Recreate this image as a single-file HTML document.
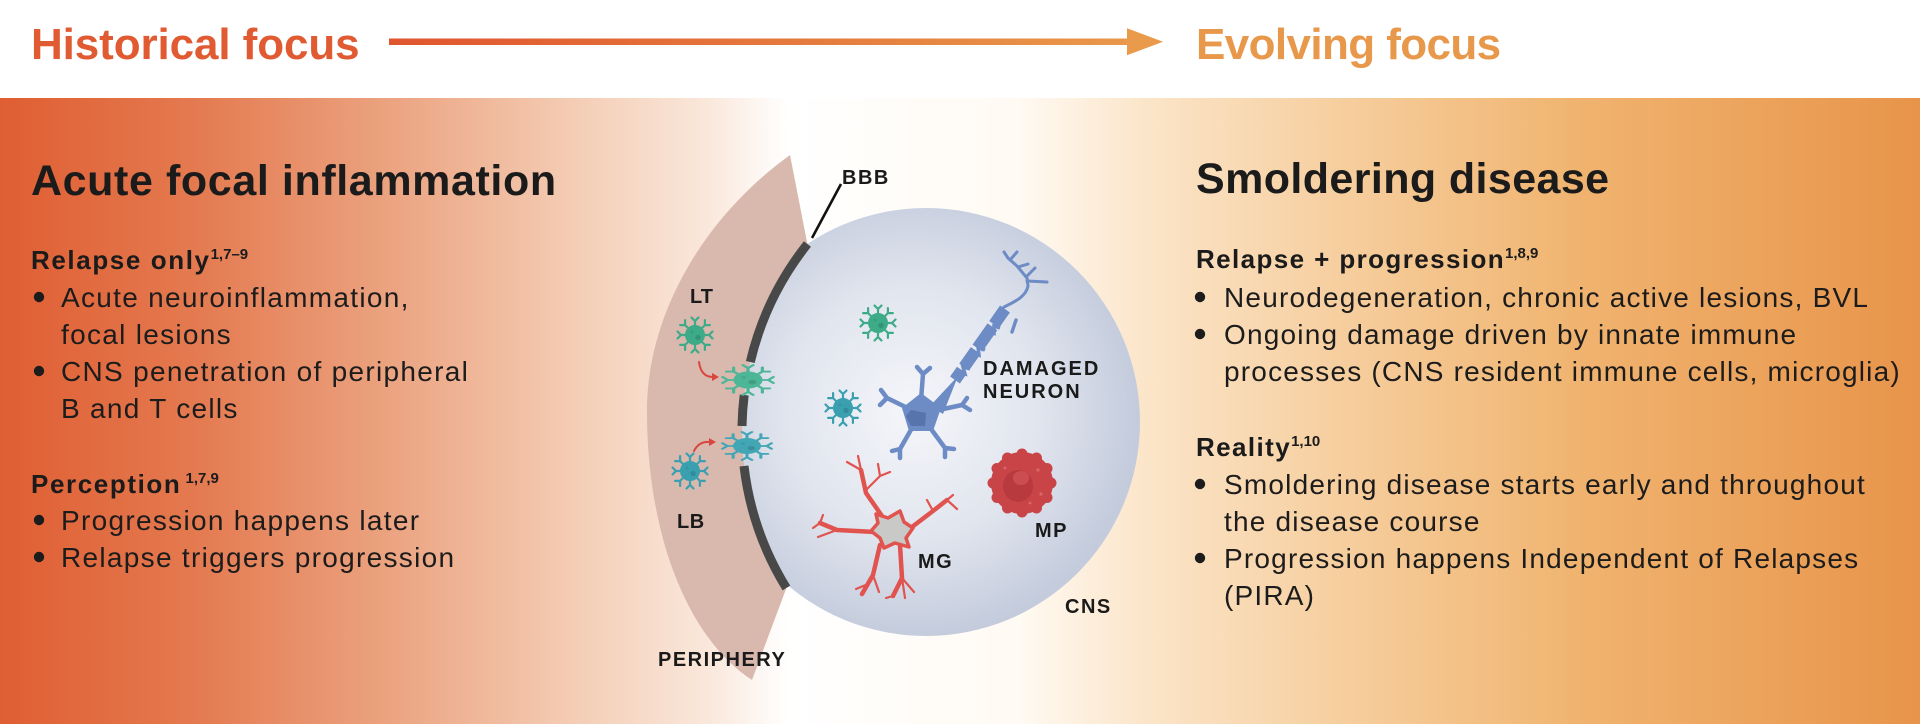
<!DOCTYPE html>
<html>
<head>
<meta charset="utf-8">
<style>
html,body{margin:0;padding:0;background:#fff;width:1920px;height:724px;overflow:hidden}
svg{display:block}
text{font-family:"Liberation Sans",Arial,sans-serif}
</style>
</head>
<body>
<svg width="1920" height="724" viewBox="0 0 1920 724" xmlns="http://www.w3.org/2000/svg">
<defs>
  <linearGradient id="band" x1="0" y1="0" x2="1920" y2="0" gradientUnits="userSpaceOnUse">
    <stop offset="0" stop-color="#e05e33"/>
    <stop offset="0.10" stop-color="#e4794f"/>
    <stop offset="0.20" stop-color="#eba27f"/>
    <stop offset="0.30" stop-color="#f4cdb5"/>
    <stop offset="0.37" stop-color="#fae8dc"/>
    <stop offset="0.41" stop-color="#ffffff"/>
    <stop offset="0.53" stop-color="#fffaf3"/>
    <stop offset="0.60" stop-color="#fbe4c7"/>
    <stop offset="0.70" stop-color="#f6ce9e"/>
    <stop offset="0.82" stop-color="#f0b470"/>
    <stop offset="1" stop-color="#e8944a"/>
  </linearGradient>
  <linearGradient id="arr" x1="389" y1="0" x2="1163" y2="0" gradientUnits="userSpaceOnUse">
    <stop offset="0" stop-color="#e0552f"/>
    <stop offset="1" stop-color="#e99b4b"/>
  </linearGradient>
  <radialGradient id="cns" cx="912" cy="412" r="228" gradientUnits="userSpaceOnUse">
    <stop offset="0" stop-color="#f5f6fa"/>
    <stop offset="0.55" stop-color="#e1e5ee"/>
    <stop offset="1" stop-color="#c3cbdc"/>
  </radialGradient>
  <g id="sp"><path d="M0,-8V-14M-3.5,-17.5L0,-14L3.5,-17.5" fill="none" stroke-width="2.2" stroke-linecap="round" stroke-linejoin="round"/></g>
  <g id="cell">
    <use href="#sp"/>
    <use href="#sp" transform="rotate(45)"/>
    <use href="#sp" transform="rotate(90)"/>
    <use href="#sp" transform="rotate(135)"/>
    <use href="#sp" transform="rotate(180)"/>
    <use href="#sp" transform="rotate(225)"/>
    <use href="#sp" transform="rotate(270)"/>
    <use href="#sp" transform="rotate(315)"/>
    <circle r="9.5"/>
    <circle cx="3" cy="2.5" r="3.2" fill="#000" fill-opacity="0.13"/>
    <circle cx="-3" cy="-3" r="2" fill="#000" fill-opacity="0.08"/>
  </g>
</defs>

<!-- background band -->
<rect x="0" y="98" width="1920" height="626" fill="url(#band)"/>

<!-- header -->
<text x="31" y="59" font-size="44" font-weight="700" fill="#e05a32" letter-spacing="-0.1">Historical focus</text>
<rect x="389" y="38.5" width="740" height="6.5" fill="url(#arr)"/>
<polygon points="1127,28.3 1163,41.8 1127,55.3" fill="#e99a4a"/>
<text x="1196" y="59" font-size="44" font-weight="700" fill="#e8984b" letter-spacing="-0.6">Evolving focus</text>

<!-- left column -->
<text x="31" y="195" font-size="43" font-weight="700" fill="#1b1b1b" letter-spacing="0.6">Acute focal inflammation</text>
<text x="31" y="269" font-size="26" font-weight="700" fill="#1b1b1b" letter-spacing="1.6">Relapse only<tspan font-size="15" dy="-10" letter-spacing="0">1,7–9</tspan></text>
<g font-size="28" fill="#1c1c1c" letter-spacing="1.3">
  <text x="61" y="307">Acute neuroinflammation,</text>
  <text x="61" y="344">focal lesions</text>
  <text x="61" y="381">CNS penetration of peripheral</text>
  <text x="61" y="418">B and T cells</text>
  <text x="61" y="530">Progression happens later</text>
  <text x="61" y="567">Relapse triggers progression</text>
</g>
<text x="31" y="493" font-size="26" font-weight="700" fill="#1b1b1b" letter-spacing="1.6">Perception<tspan font-size="15" dy="-10" letter-spacing="0"> 1,7,9</tspan></text>
<g fill="#1c1c1c">
  <circle cx="39" cy="297" r="5.2"/>
  <circle cx="39" cy="371" r="5.2"/>
  <circle cx="39" cy="520" r="5.2"/>
  <circle cx="39" cy="557" r="5.2"/>
</g>

<!-- right column -->
<text x="1196" y="193" font-size="43" font-weight="700" fill="#1b1b1b" letter-spacing="0.4">Smoldering disease</text>
<text x="1196" y="268" font-size="26" font-weight="700" fill="#1b1b1b" letter-spacing="1.4">Relapse + progression<tspan font-size="15" dy="-10" letter-spacing="0">1,8,9</tspan></text>
<text x="1196" y="456" font-size="26" font-weight="700" fill="#1b1b1b" letter-spacing="1.4">Reality<tspan font-size="15" dy="-10" letter-spacing="0">1,10</tspan></text>
<g font-size="28" fill="#1c1c1c" letter-spacing="1.2">
  <text x="1224" y="307">Neurodegeneration, chronic active lesions, BVL</text>
  <text x="1224" y="344">Ongoing damage driven by innate immune</text>
  <text x="1224" y="381">processes (CNS resident immune cells, microglia)</text>
  <text x="1224" y="494">Smoldering disease starts early and throughout</text>
  <text x="1224" y="531">the disease course</text>
  <text x="1224" y="568">Progression happens Independent of Relapses</text>
  <text x="1224" y="605">(PIRA)</text>
</g>
<g fill="#1c1c1c">
  <circle cx="1200" cy="297" r="5.2"/>
  <circle cx="1200" cy="334" r="5.2"/>
  <circle cx="1200" cy="484" r="5.2"/>
  <circle cx="1200" cy="558" r="5.2"/>
</g>

<!-- center diagram -->
<circle cx="926" cy="422" r="214" fill="url(#cns)"/>
<path d="M790,155 C700,220 645,320 647,416 C648,540 690,640 752,680 L786.4,588 A300,300 0 0,1 807.4,244 Z" fill="#d9b8ae"/>

<!-- BBB arc segments -->
<g fill="none" stroke="#484848" stroke-width="9">
  <path d="M807.4,244 A300,300 0 0,0 750.3,362"/>
  <path d="M744.2,395 A300,300 0 0,0 742,426"/>
  <path d="M744,466 A300,300 0 0,0 786.4,588"/>
</g>
<line x1="841" y1="184" x2="812" y2="238" stroke="#111" stroke-width="2.6"/>

<!-- cells -->
<use href="#cell" fill="#3dab88" stroke="#3dab88" transform="translate(695,335)"/>
<use href="#cell" fill="#4cb697" stroke="#4cb697" transform="translate(748,380) scale(1.45,0.85)"/>
<use href="#cell" fill="#3aa0b0" stroke="#3aa0b0" transform="translate(690,471)"/>
<use href="#cell" fill="#43a6b4" stroke="#43a6b4" transform="translate(747,446) scale(1.4,0.8)"/>
<use href="#cell" fill="#3dab88" stroke="#3dab88" transform="translate(878,323)"/>
<use href="#cell" fill="#3aa0b0" stroke="#3aa0b0" transform="translate(843,408)"/>

<!-- red arrows -->
<g stroke="#d9463e" stroke-width="2" fill="none" stroke-linecap="round">
  <path d="M699,362 Q701,377 713,377"/>
  <path d="M694,451 Q699,441 710,442"/>
</g>
<polygon points="712,373 719,377 712,381" fill="#d9463e"/>
<polygon points="709,438 716,442 709,446" fill="#d9463e"/>

<!-- neuron -->
<g stroke="#6d8bc5" stroke-width="4.5" stroke-linecap="round" fill="none">
  <path d="M920,414 L887,398 M887,398 L881,390 M887,398 L880,405"/>
  <path d="M920,414 L923,374 M923,374 L917,367 M923,374 L930,368"/>
  <path d="M920,414 L962,405 M962,405 L967,398 M962,405 L970,410"/>
  <path d="M920,414 L900,449 M900,449 L892,451 M900,449 L900,458"/>
  <path d="M920,414 L945,448 M945,448 L954,449 M945,448 L945,457"/>
</g>
<polygon points="921,393 941,408 933,431 909,431 902,408" fill="#6d8bc5"/>
<polygon points="911,410 926,413 925,426 911,426 906,416" fill="#5874ad"/>
<polygon points="930,406 943,414 958,376" fill="#6d8bc5"/>
<path d="M955,380 L1005,309" stroke="#6d8bc5" stroke-width="12" stroke-dasharray="12 4 20 3 26 3 40" fill="none"/>
<path d="M958,372 l7,2 l-2,-7 l7,2 M972,352 l7,3 l-1,-8 l7,3 M988,330 l6,3 l0,-7 l6,2" stroke="#6d8bc5" stroke-width="3.5" fill="none"/>
<line x1="1016" y1="320" x2="1012" y2="332" stroke="#6d8bc5" stroke-width="3.5" stroke-linecap="round"/>
<g stroke="#6d8bc5" stroke-width="3" fill="none" stroke-linecap="round">
  <path d="M1004,307 C1014,302 1026,297 1028,286 L1027,278 L1017,266 L1008,258"/>
  <path d="M1027,281 L1047,282"/>
  <path d="M1026,277 L1035,268"/>
  <path d="M1018,267 L1028,264"/>
  <path d="M1008,258 L1004,252 M1010,260 L1017,252"/>
</g>

<!-- microglia -->
<g stroke="#e0534e" stroke-linecap="round" stroke-linejoin="round" fill="none">
  <g stroke-width="4.5">
    <path d="M882,516 L866,493 L861,470"/>
    <path d="M908,530 L933,511 L947,500"/>
    <path d="M875,532 L837,530 L820,523"/>
    <path d="M880,545 L873,575 L862,594"/>
    <path d="M900,545 L902,578 L893,596"/>
  </g>
  <g stroke-width="2.2">
    <path d="M861,470 L847,462 M861,470 L858,456 M866,490 L880,476 L890,472 M880,476 L878,464"/>
    <path d="M947,500 L953,495 M947,500 L957,509 M933,511 L927,500"/>
    <path d="M820,523 L813,528 M820,523 L823,515 M837,530 L818,537"/>
    <path d="M873,575 L879,592 M868,584 L856,589"/>
    <path d="M902,578 L905,598 M902,578 L914,592 M893,596 L886,598"/>
  </g>
</g>
<polygon points="876,514 888,518 900,511 904,522 913,528 906,538 909,547 895,543 884,548 880,538 871,531 878,523" fill="#c9c9c7" stroke="#e0534e" stroke-width="3.5" stroke-linejoin="round"/>

<!-- MP blob -->
<g fill="#c94447">
  <circle cx="1022" cy="483" r="31"/>
  <circle cx="1022" cy="454" r="5.5"/>
  <circle cx="1036.5" cy="458" r="5.5"/>
  <circle cx="1047" cy="468.5" r="5.5"/>
  <circle cx="1051" cy="483" r="5.5"/>
  <circle cx="1047" cy="497.5" r="5.5"/>
  <circle cx="1036.5" cy="508" r="5.5"/>
  <circle cx="1022" cy="512" r="5.5"/>
  <circle cx="1007.5" cy="508" r="5.5"/>
  <circle cx="997" cy="497.5" r="5.5"/>
  <circle cx="993" cy="483" r="5.5"/>
  <circle cx="997" cy="468.5" r="5.5"/>
  <circle cx="1007.5" cy="458" r="5.5"/>
</g>
<ellipse cx="1018" cy="486" rx="15" ry="16" fill="#b8393e"/>
<ellipse cx="1021" cy="478" rx="8" ry="7" fill="#cc4d51"/>
<g fill="#d8686a">
  <circle cx="1038" cy="470" r="1.6"/>
  <circle cx="1041" cy="494" r="1.6"/>
  <circle cx="1005" cy="468" r="1.4"/>
  <circle cx="1030" cy="503" r="1.4"/>
</g>

<!-- labels -->
<g font-size="20" font-weight="700" fill="#1a1a1a" letter-spacing="1.5">
  <text x="842" y="184">BBB</text>
  <text x="690" y="303" letter-spacing="0">LT</text>
  <text x="677" y="528" letter-spacing="0.5">LB</text>
  <text x="983" y="375" letter-spacing="2">DAMAGED</text>
  <text x="983" y="398" letter-spacing="2">NEURON</text>
  <text x="1035" y="537">MP</text>
  <text x="918" y="568">MG</text>
  <text x="1065" y="613">CNS</text>
  <text x="658" y="666">PERIPHERY</text>
</g>
</svg>
</body>
</html>
